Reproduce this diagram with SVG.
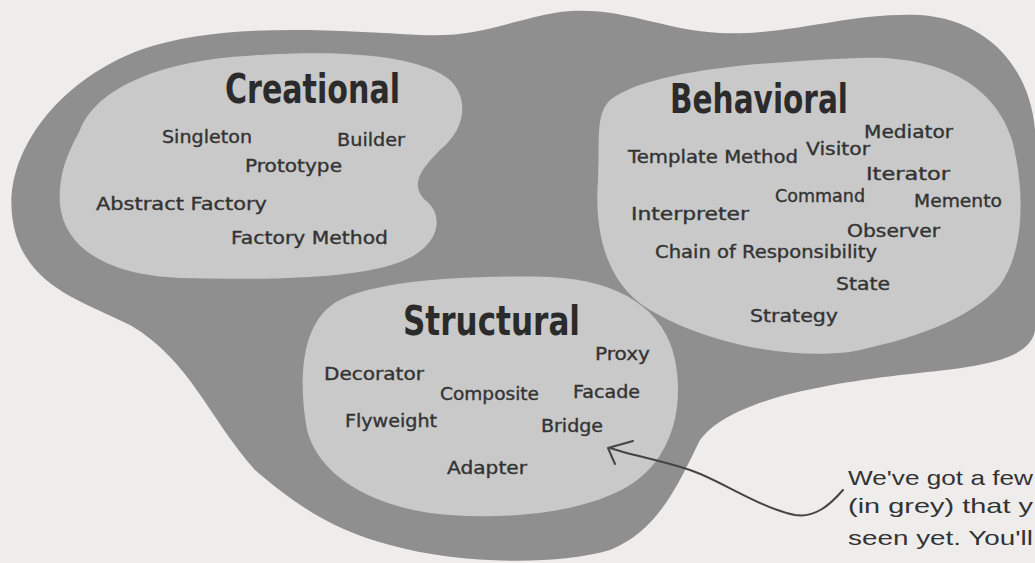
<svg xmlns="http://www.w3.org/2000/svg" width="1035" height="563" viewBox="0 0 1035 563">
<style>
.bg{fill:#efedeb}
.outer{fill:#8f8f8f}
.inner{fill:#c9c9c9}
.title{font-family:"DejaVu Sans Condensed","DejaVu Sans",sans-serif;font-weight:bold;font-size:40px;fill:#2b2b2b}
.item{font-family:"DejaVu Sans",sans-serif;font-size:17px;fill:#333;stroke:#333;stroke-width:0.35}
.note{font-family:"Liberation Sans",sans-serif;font-size:21px;fill:#333}
.conn{fill:none;stroke:#444;stroke-width:2;stroke-linecap:round;stroke-linejoin:round}
</style>
<rect class="bg" x="0" y="0" width="1035" height="563"/>
<g id="outer-region">
<path class="outer" d="M 12,215 C 5,150 60,80 140,50 C 220,22 330,30 420,35 C 480,38 510,20 560,12 C 620,5 660,30 720,33 C 790,36 850,12 920,15 C 990,20 1030,70 1035,130 L 1035,330 C 1030,365 960,368 900,375 C 820,385 730,400 700,440 C 680,480 660,530 610,550 C 560,565 460,565 390,545 C 330,530 290,500 255,470 C 210,420 190,360 130,325 C 80,300 20,285 12,215 Z"/>
</g>
<g id="creational">
<path class="inner" d="M 80,130 C 100,80 180,58 260,55 C 340,50 420,55 450,80 C 470,100 465,130 440,150 C 420,170 410,185 425,200 C 445,215 440,245 405,260 C 360,280 260,280 180,278 C 110,275 65,250 60,205 C 58,170 70,150 80,130 Z"/>
<text class="title" x="225" y="103" textLength="175" lengthAdjust="spacingAndGlyphs">Creational</text>
<text class="item" x="162" y="143" textLength="90" lengthAdjust="spacingAndGlyphs">Singleton</text>
<text class="item" x="337" y="146" textLength="68" lengthAdjust="spacingAndGlyphs">Builder</text>
<text class="item" x="245" y="172" textLength="97" lengthAdjust="spacingAndGlyphs">Prototype</text>
<text class="item" x="96" y="210" textLength="171" lengthAdjust="spacingAndGlyphs">Abstract Factory</text>
<text class="item" x="231" y="244" textLength="157" lengthAdjust="spacingAndGlyphs">Factory Method</text>
</g>
<g id="behavioral">
<path class="inner" d="M 610,100 C 650,70 760,62 860,58 C 940,55 995,85 1012,140 C 1025,190 1025,250 1000,285 C 970,320 910,340 850,352 C 780,360 700,340 650,310 C 600,280 595,220 598,180 C 600,140 595,115 610,100 Z"/>
<text class="title" x="670" y="113" textLength="178" lengthAdjust="spacingAndGlyphs">Behavioral</text>
<text class="item" x="864" y="138" textLength="89" lengthAdjust="spacingAndGlyphs">Mediator</text>
<text class="item" x="628" y="163" textLength="170" lengthAdjust="spacingAndGlyphs">Template Method</text>
<text class="item" x="806" y="155" textLength="64" lengthAdjust="spacingAndGlyphs">Visitor</text>
<text class="item" x="866" y="180" textLength="84" lengthAdjust="spacingAndGlyphs">Iterator</text>
<text class="item" x="775" y="202" textLength="90" lengthAdjust="spacingAndGlyphs">Command</text>
<text class="item" x="914" y="207" textLength="88" lengthAdjust="spacingAndGlyphs">Memento</text>
<text class="item" x="631" y="220" textLength="118" lengthAdjust="spacingAndGlyphs">Interpreter</text>
<text class="item" x="847" y="237" textLength="93" lengthAdjust="spacingAndGlyphs">Observer</text>
<text class="item" x="655" y="258" textLength="222" lengthAdjust="spacingAndGlyphs">Chain of Responsibility</text>
<text class="item" x="836" y="290" textLength="54" lengthAdjust="spacingAndGlyphs">State</text>
<text class="item" x="750" y="322" textLength="88" lengthAdjust="spacingAndGlyphs">Strategy</text>
</g>
<g id="structural">
<path class="inner" d="M 340,300 C 380,280 470,275 550,277 C 620,280 665,310 675,360 C 685,410 670,460 630,485 C 590,510 520,520 450,515 C 380,510 320,480 307,430 C 298,380 300,320 340,300 Z"/>
<text class="title" x="403" y="335" textLength="177" lengthAdjust="spacingAndGlyphs">Structural</text>
<text class="item" x="595" y="360" textLength="55" lengthAdjust="spacingAndGlyphs">Proxy</text>
<text class="item" x="324" y="380" textLength="100" lengthAdjust="spacingAndGlyphs">Decorator</text>
<text class="item" x="440" y="400" textLength="99" lengthAdjust="spacingAndGlyphs">Composite</text>
<text class="item" x="573" y="398" textLength="67" lengthAdjust="spacingAndGlyphs">Facade</text>
<text class="item" x="345" y="427" textLength="92" lengthAdjust="spacingAndGlyphs">Flyweight</text>
<text class="item" x="541" y="432" textLength="62" lengthAdjust="spacingAndGlyphs">Bridge</text>
<text class="item" x="447" y="474" textLength="80" lengthAdjust="spacingAndGlyphs">Adapter</text>
</g>
<g id="note">
<text class="note" x="848" y="485" textLength="185" lengthAdjust="spacingAndGlyphs">We've got a few</text>
<text class="note" x="848" y="513" textLength="185" lengthAdjust="spacingAndGlyphs">(in grey) that y</text>
<text class="note" x="848" y="545" textLength="185" lengthAdjust="spacingAndGlyphs">seen yet. You'll</text>
</g>
<g id="connectors">
<path class="conn" d="M 843,490 C 830,505 815,518 795,515 C 760,508 720,480 690,470 C 660,460 630,455 610,448"/>
<path class="conn" d="M 633,441 L 608,448 L 615,464"/>
</g>
</svg>
